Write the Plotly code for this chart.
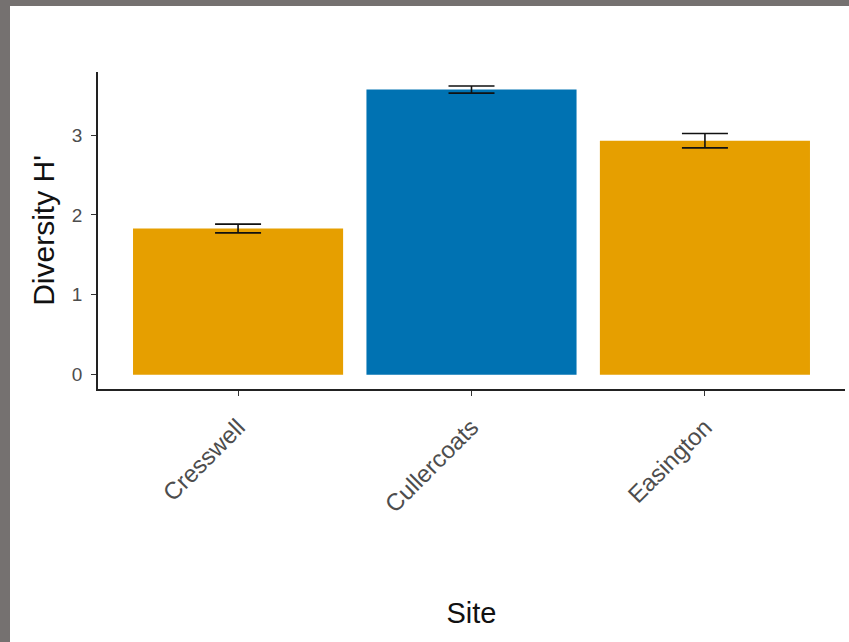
import plotly.graph_objects as go

sites = ["Cresswell", "Cullercoats", "Easington"]
means = [1.83, 3.57, 2.93]
ses = [0.055, 0.045, 0.09]
colors = ["#E69F00", "#0072B2", "#E69F00"]

W, H = 849, 642
L, R, T, B = 98, 4, 72, 253
pw, ph = W - L - R, H - T - B

def px_x(x):
    return (x - L) / pw

def px_y(y):
    return (H - B - y) / ph

fig = go.Figure()
fig.add_trace(go.Bar(
    x=sites, y=means,
    marker=dict(color=colors, line=dict(width=0)),
    width=0.9,
    error_y=dict(type="data", array=ses, visible=True, color="#111111", thickness=1.6, width=23),
    showlegend=False,
))

grey = "#757170"
fig.add_shape(type="rect", xref="paper", yref="paper", x0=px_x(0), x1=px_x(10), y0=px_y(H), y1=px_y(0),
              fillcolor=grey, line=dict(width=0), layer="above")
fig.add_shape(type="rect", xref="paper", yref="paper", x0=px_x(0), x1=px_x(W), y0=px_y(6), y1=px_y(0),
              fillcolor=grey, line=dict(width=0), layer="above")

fig.update_layout(
    width=W, height=H,
    margin=dict(l=L, r=R, t=T, b=B, pad=0),
    paper_bgcolor="white", plot_bgcolor="white",
    font=dict(family="Liberation Sans, Arial, sans-serif", color="#4d4d4d"),
    xaxis=dict(
        range=[-0.6, 2.6], showline=True, linecolor="#222222", linewidth=1.5,
        ticks="outside", ticklen=5, tickcolor="#333333", tickwidth=1.2,
        tickangle=-45, tickfont=dict(size=24, color="#4d4d4d"), ticklabelstandoff=8,
        title=dict(text="Site", font=dict(size=29, color="#111111"), standoff=86),
        showgrid=False, zeroline=False,
    ),
    yaxis=dict(
        range=[-0.18, 3.79], showline=True, linecolor="#222222", linewidth=1.5,
        ticks="outside", ticklen=5, tickcolor="#333333", tickwidth=1.2,
        tickvals=[0, 1, 2, 3], tickfont=dict(size=19, color="#4d4d4d"), ticklabelstandoff=5,
        title=dict(text="Diversity H'", font=dict(size=30, color="#111111"), standoff=8),
        showgrid=False, zeroline=False,
    ),
)

fig.write_html("out.html")
